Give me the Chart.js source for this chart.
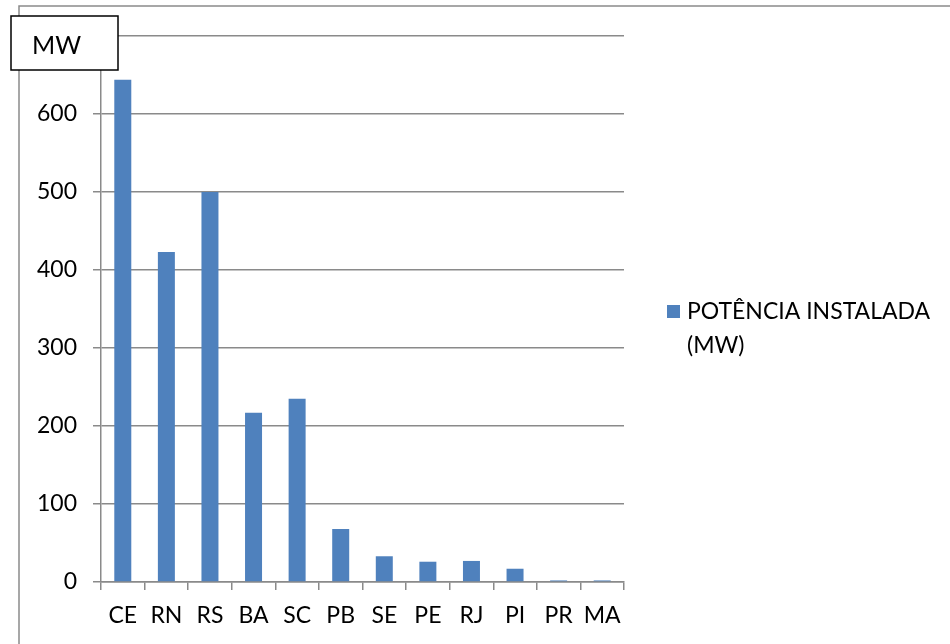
<!DOCTYPE html>
<html>
<head>
<meta charset="utf-8">
<script src="https://cdn.jsdelivr.net/npm/chart.js@4"></script>
<style>
  html, body { margin: 0; padding: 0; background: #fff; }
  #wrap { width: 950px; height: 644px; position: relative; }
</style>
</head>
<body>
<div id="wrap"><canvas id="c" width="950" height="644"></canvas></div>
<script>
// States with installed wind power capacity
const states = ['CE', 'RN', 'RS', 'BA', 'SC', 'PB', 'SE', 'PE', 'RJ', 'PI', 'PR', 'MA'];
const installedMW = [644, 423, 500, 217, 235, 68, 33, 26, 27, 17, 2, 2];
const seriesName = ['POTÊNCIA INSTALADA', '(MW)'];
const unitLabel = 'MW';
const yMax = 700;
const yStep = 100;

const FONT = 'Lato, "Open Sans", sans-serif';
const GRID = '#8a8a8a';
const BAR = '#4f81bd';

// Outer frame, unit box and side legend are drawn around the plot
const decorations = {
  id: 'decorations',
  afterDraw(chart) {
    const ctx = chart.ctx;
    ctx.save();
    // outer frame (top and left edges)
    ctx.strokeStyle = GRID;
    ctx.lineWidth = 1.5;
    ctx.beginPath();
    ctx.moveTo(19, 644);
    ctx.lineTo(19, 6);
    ctx.lineTo(950, 6);
    ctx.stroke();

    // unit box
    ctx.fillStyle = '#fff';
    ctx.fillRect(11, 16, 107, 54);
    ctx.strokeStyle = '#000';
    ctx.lineWidth = 1.5;
    ctx.strokeRect(11, 16, 107, 54);
    ctx.fillStyle = '#000';
    ctx.font = '25px ' + FONT;
    ctx.textBaseline = 'middle';
    ctx.textAlign = 'left';
    ctx.fillText(unitLabel, 32, 46);

    // legend
    ctx.fillStyle = BAR;
    ctx.fillRect(667, 305, 13, 13);
    ctx.fillStyle = '#000';
    ctx.font = '23px ' + FONT;
    ctx.fillText(seriesName[0], 687, 312);
    ctx.fillText(seriesName[1], 687, 346);
    ctx.restore();
  }
};

new Chart(document.getElementById('c'), {
  type: 'bar',
  data: {
    labels: states,
    datasets: [{
      label: seriesName.join(' '),
      data: installedMW,
      backgroundColor: BAR,
      barPercentage: 0.39,
      categoryPercentage: 1.0
    }]
  },
  options: {
    responsive: false,
    animation: false,
    layout: { padding: { top: 36, right: 326, left: 0, bottom: 0 } },
    plugins: {
      legend: { display: false },
      tooltip: { enabled: false },
      title: { display: false }
    },
    scales: {
      x: {
        grid: {
          drawOnChartArea: false,
          drawTicks: true,
          tickLength: 8,
          color: GRID,
          lineWidth: 1.5
        },
        border: { display: true, color: GRID, width: 1.5 },
        ticks: {
          color: '#000',
          font: { family: FONT, size: 23 },
          padding: 12,
          maxRotation: 0,
          autoSkip: false
        },
        afterFit(scale) { scale.height = 62; }
      },
      y: {
        min: 0,
        max: yMax,
        grid: {
          color: GRID,
          lineWidth: 1.5,
          drawTicks: true,
          tickLength: 8
        },
        border: { display: true, color: GRID, width: 1.5 },
        ticks: {
          stepSize: yStep,
          color: '#000',
          font: { family: FONT, size: 23 },
          padding: 16
        },
        afterFit(scale) { scale.width = 101; }
      }
    }
  },
  plugins: [decorations]
});
</script>
</body>
</html>
